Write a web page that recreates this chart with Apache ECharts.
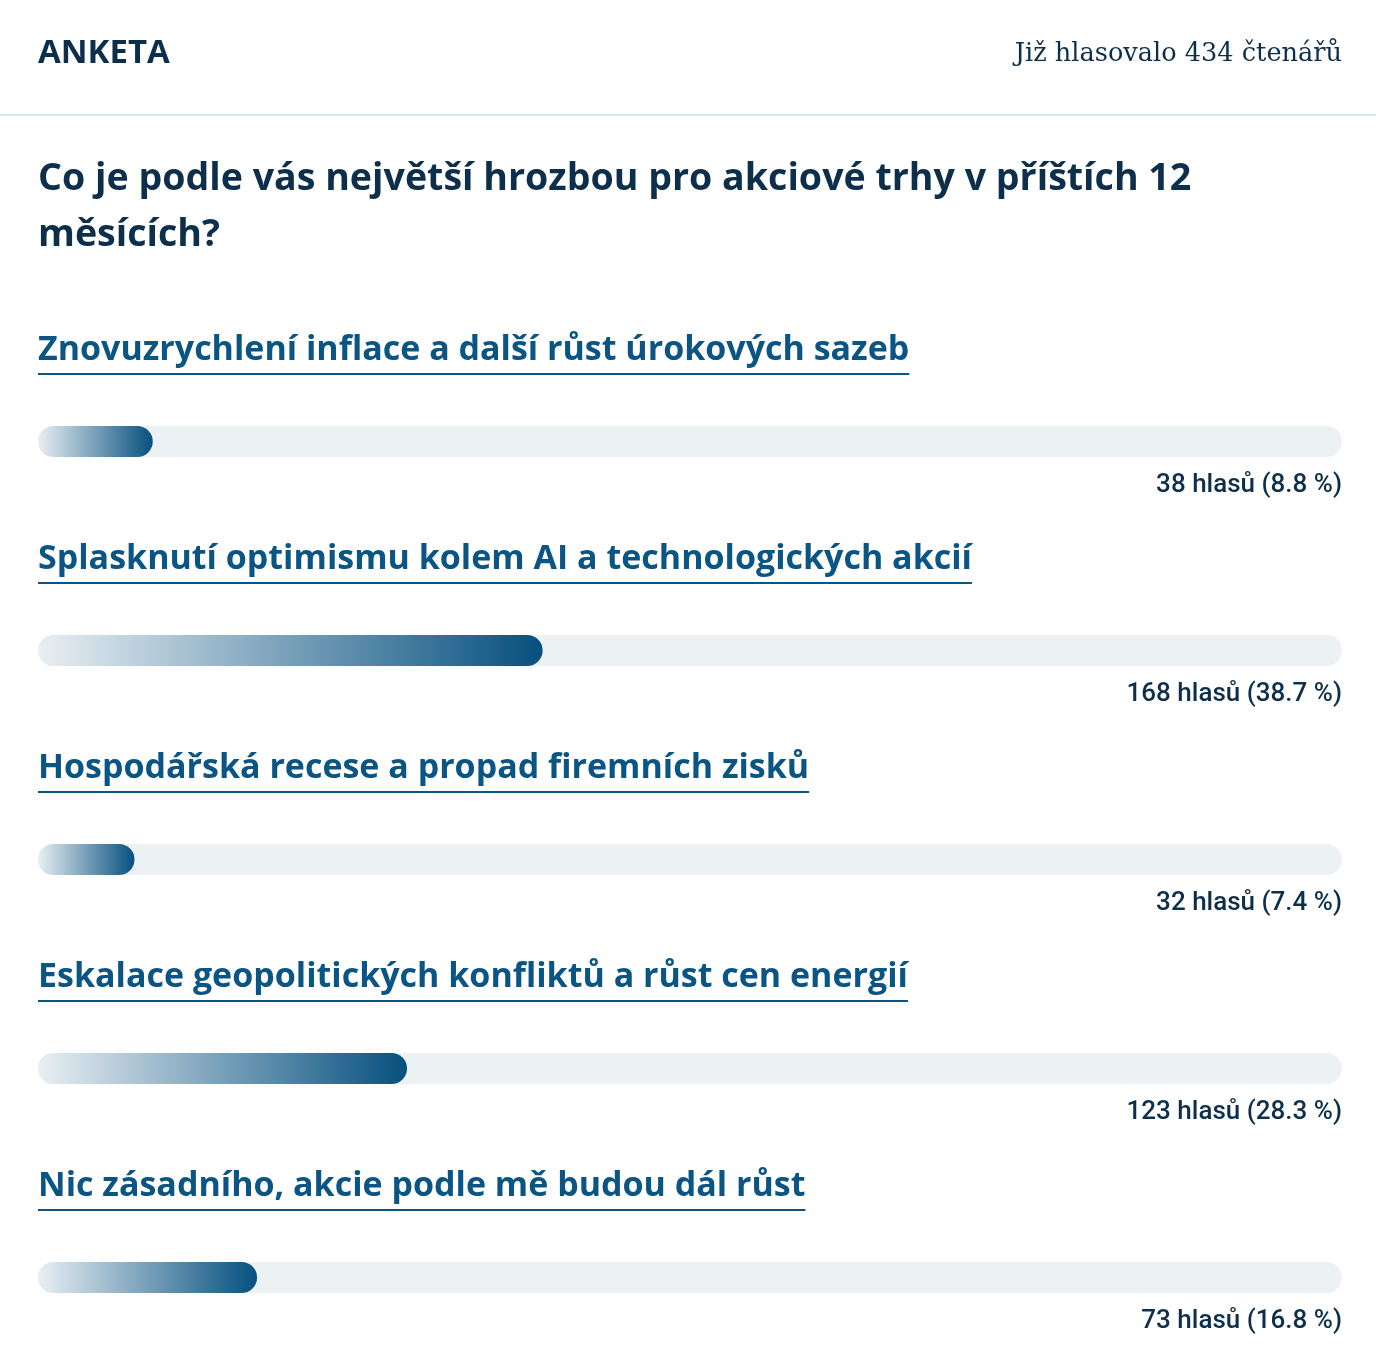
<!DOCTYPE html>
<html>
<head>
<meta charset="utf-8">
<script src="https://cdn.jsdelivr.net/npm/echarts@6/dist/echarts.min.js"></script>
<style>
    html, body { margin: 0; padding: 0; background: #fff; }
    #main { width: 1376px; height: 1354px; }
</style>
</head>
<body>
<div id="main"></div>
<script type="text/javascript">
    // poll data
    var answers = [
        'Znovuzrychlení inflace a další růst úrokových sazeb',
        'Splasknutí optimismu kolem AI a technologických akcií',
        'Hospodářská recese a propad firemních zisků',
        'Eskalace geopolitických konfliktů a růst cen energií',
        'Nic zásadního, akcie podle mě budou dál růst'
    ];
    var votes = [38, 168, 32, 123, 73];
    var percents = [8.8, 38.7, 7.4, 28.3, 16.8];
    var totalVotes = 434;
    var question = 'Co je podle vás největší hrozbou pro akciové trhy v příštích 12\nměsících?';

    var navy = '#0d2f4b';
    var blue = '#0b5585';
    var labelFont = 'bold 34px "Open Sans"';

    // measure answer text to size the underline
    var ctx = document.createElement('canvas').getContext('2d');
    ctx.font = labelFont;

    var chart = echarts.init(document.getElementById('main'));

    var grids = [], xAxes = [], yAxes = [], series = [], graphics = [];
    var titles = [
        {text: 'ANKETA', left: 38, top: 37, padding: 0,
            textStyle: {fontFamily: 'Open Sans', fontWeight: 'bold', fontSize: 33, color: navy}},
        {text: 'Již hlasovalo ' + totalVotes + ' čtenářů', right: 34, top: 41, padding: 0,
            textStyle: {fontFamily: 'DejaVu Serif', fontWeight: 'normal', fontSize: 25.6, color: navy}},
        {text: question, left: 38, top: 151, padding: 0,
            textStyle: {fontFamily: 'Open Sans', fontWeight: 'bold', fontSize: 37.6, lineHeight: 56, color: navy}}
    ];
    graphics.push({type: 'rect', shape: {x: 0, y: 114, width: 1376, height: 2}, style: {fill: '#dde7ee'}, silent: true});

    answers.forEach(function (a, i) {
        var top = 426 + 209 * i;
        grids.push({left: 38, right: 34, top: top, height: 31});
        xAxes.push({gridIndex: i, type: 'value', min: 0, max: 100, show: false});
        yAxes.push({gridIndex: i, type: 'category', data: [a], show: false});
        // track
        series.push({
            type: 'bar', xAxisIndex: i, yAxisIndex: i, data: [100], barWidth: 31, barGap: '-100%', silent: true,
            itemStyle: {color: '#ecf1f4', borderRadius: 16},
            label: {
                show: true, position: ['100%', 59], align: 'right', verticalAlign: 'middle',
                formatter: votes[i] + ' hlasů (' + percents[i].toFixed(1) + ' %)',
                fontFamily: 'Roboto', fontWeight: 500, fontSize: 26, color: navy
            }
        });
        // filled part
        series.push({
            type: 'bar', xAxisIndex: i, yAxisIndex: i, data: [percents[i]], barWidth: 31, barGap: '-100%', silent: true,
            itemStyle: {
                borderRadius: 16,
                color: new echarts.graphic.LinearGradient(0, 0, 1, 0, [
                    {offset: 0, color: '#e9eff3'},
                    {offset: 1, color: '#06507f'}
                ])
            }
        });
        titles.push({
            text: a, left: 38, top: top - 93, padding: 0,
            textStyle: {fontFamily: 'Open Sans', fontWeight: 'bold', fontSize: 34, color: blue}
        });
        graphics.push({
            type: 'rect', silent: true,
            shape: {x: 38, y: top - 53, width: ctx.measureText(a).width, height: 2},
            style: {fill: blue}
        });
    });

    chart.setOption({
        animation: false,
        title: titles,
        grid: grids,
        xAxis: xAxes,
        yAxis: yAxes,
        series: series,
        graphic: graphics
    });
</script>
</body>
</html>
